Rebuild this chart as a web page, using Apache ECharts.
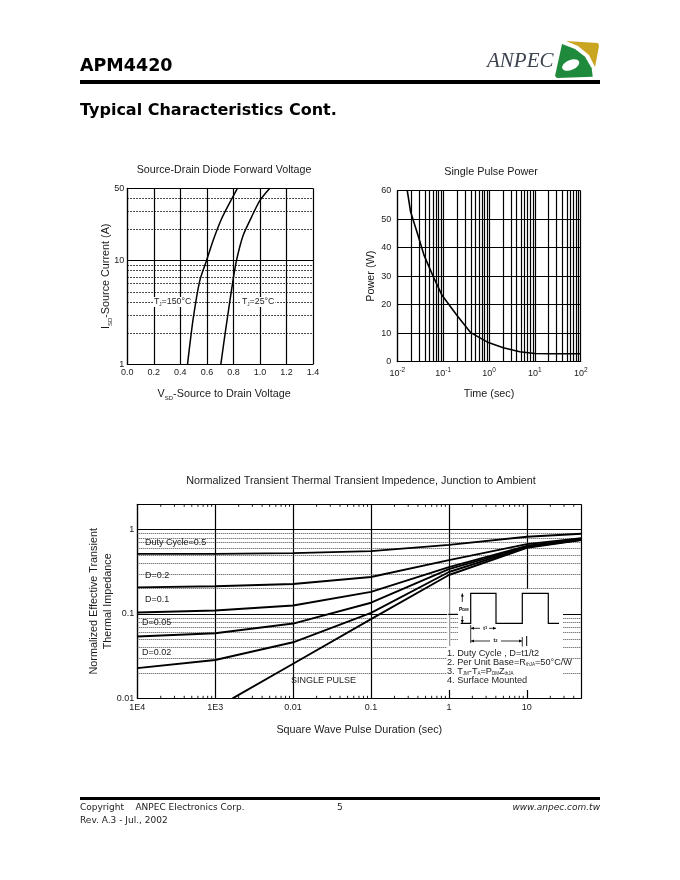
<!DOCTYPE html>
<html><head><meta charset="utf-8">
<style>html,body{margin:0;padding:0;background:#fff}#c{width:680px;height:880px}</style>
<script src="https://cdn.jsdelivr.net/npm/echarts@6/dist/echarts.min.js"></script>
</head><body><div id="c"></div>
<script>
// ---- data ----
const diode150 = [[0.454,1],[0.497,2.77],[0.547,6.47],[0.597,10],[0.647,15.7],[0.71,25.3],[0.798,41.9],[0.83,50]];
const diode25 = [[0.705,1],[0.743,2.22],[0.793,6],[0.823,10],[0.873,17.5],[0.936,26.3],[0.999,38],[1.074,50]];
const diodeMinorY = [2,3,4,5,6,7,8,9,20,30,40];
const diodeXLabels = ['0.0','0.2','0.4','0.6','0.8','1.0','1.2','1.4'];

const powerCurve = [[0.0165,60],[0.0195,52.6],[0.0288,43.9],[0.0382,37.4],[0.061,29.8],[0.0925,23.6],[0.1,22.8],[0.197,16.4],[0.4,10.2],[0.97,6.7],[2.05,4.9],[4.7,3.5],[10,2.9],[21,2.8],[100,2.8]];
const powerMinorX = [0.02,0.03,0.04,0.05,0.06,0.07,0.08,0.09,0.2,0.3,0.4,0.5,0.6,0.7,0.8,0.9,2,3,4,5,6,7,8,9,20,30,40,50,60,70,80,90];

const pulseTimes = [0.0001,0.001,0.01,0.1,1,10,50];
const dutyHalf = [0.517,0.517,0.527,0.557,0.66,0.825,0.896];
const duty02 = [0.207,0.213,0.227,0.275,0.435,0.675,0.795];
const duty01 = [0.104,0.11,0.126,0.183,0.36,0.644,0.77];
const duty005 = [0.054,0.059,0.077,0.136,0.34,0.63,0.765];
const duty002 = [0.0228,0.0285,0.0462,0.103,0.315,0.62,0.76];
const singlePulse = [[0.00167,0.01],[0.01,0.0257],[0.1,0.0868],[1,0.29],[10,0.61],[50,0.755]];
const thermalMinorY = [0.02,0.03,0.04,0.05,0.06,0.07,0.08,0.09,0.2,0.3,0.4,0.5,0.6,0.7,0.8,0.9];
const thermalMinorX = [0.0002,0.0003,0.0004,0.0005,0.0006,0.0007,0.0008,0.0009,0.002,0.003,0.004,0.005,0.006,0.007,0.008,0.009,0.02,0.03,0.04,0.05,0.06,0.07,0.08,0.09,0.2,0.3,0.4,0.5,0.6,0.7,0.8,0.9,2,3,4,5,6,7,8,9,20,30,40];
const thermalXLabels = {'-4':'1E4','-3':'1E3','-2':'0.01','-1':'0.1','0':'1','1':'10'};
const thermalYLabels = {'0':'1','-1':'0.1','-2':'0.01'};

const FF = '"Liberation Sans"';
const INK = '#1a1a1a';
const axisText = {color:INK,fontFamily:FF,fontSize:9,margin:4};
const nameText = {color:INK,fontFamily:FF,fontSize:10.8};
const subRich = {sub:{fontSize:6,fontFamily:FF,color:INK,verticalAlign:'bottom',lineHeight:14,padding:[5,0,0,0]},
                 sup:{fontSize:6.5,fontFamily:FF,color:INK,verticalAlign:'top',lineHeight:14}};
const solid = {show:true,lineStyle:{color:'#000',width:1.2,type:'solid'}};
const axisLine = {show:true,onZero:false,lineStyle:{color:'#000',width:1.2}};
const dotted = {color:'#333',width:0.9,type:[1,1]};
const dottedDark = {color:'#111',width:1.1,type:[1.5,1.5]};

function rules(x,y,list,dim,style){
  return {type:'line',xAxisIndex:x,yAxisIndex:y,data:[],silent:true,z:1,
    markLine:{silent:true,symbol:'none',animation:false,label:{show:false},lineStyle:style,
      emphasis:{disabled:true},data:list.map(v=>({[dim]:v}))}};
}
function curve(x,y,data,width,smooth){
  return {type:'line',xAxisIndex:x,yAxisIndex:y,data:data,symbol:'none',smooth:smooth||false,
    animation:false,silent:true,z:5,lineStyle:{color:'#000',width:width},clip:true};
}
const zip = (xs,ys)=>ys.map((v,i)=>[xs[i],v]);

// ---- page decoration and text ----
function T(x,y,text,font,o){
  o=o||{};
  return {type:'text',x:x,y:y,z:o.z||20,rotation:o.rot||0,style:Object.assign({text:text,font:font,fill:o.fill||'#000',
    textAlign:o.align||'left',textVerticalAlign:'middle'},o.style||{})};
}
function Rect(x,y,w,h,fill,z){return {type:'rect',z:z||10,shape:{x,y,width:w,height:h},style:{fill}};}
function Poly(points,width,z){return {type:'polyline',z:z||15,shape:{points},style:{stroke:'#000',fill:null,lineWidth:width}};}
function Arrow(x1,y1,x2,y2){
  const dx=Math.sign(x2-x1),dy=Math.sign(y2-y1);
  return [Poly([[x1,y1],[x2,y2]],0.8),
    {type:'polygon',z:15,shape:{points:[[x2,y2],[x2-dx*3-dy*1.5,y2-dy*3-dx*1.5],[x2-dx*3+dy*1.5,y2-dy*3+dx*1.5]]},style:{fill:'#000'}}];
}
const noteFont = '9.2px '+FF;
const subStyle = {rich:{s:{fontSize:4.5,fontFamily:FF,fill:'#222',verticalAlign:'bottom',padding:[5,0,0,0]}}};
const tinyRich = {rich:{s:{fontSize:4,fontFamily:FF,fontWeight:'bold'}}};
const graphics = [
  T(80,66,'APM4420','bold 17.5px "DejaVu Sans"'),
  Rect(80,80,520,4,'#000'),
  T(80,111,'Typical Characteristics Cont.','bold 16px "DejaVu Sans"'),
  {type:'polygon',z:3,shape:{points:[[566,41],[598,43],[599,46],[595,67],[589,55],[578,46]]},style:{fill:'#c9a521'}},
  {type:'polygon',z:4,shape:{points:[[562,44],[575,49],[585,56.7],[591.7,68.3],[592.7,76.7],[557,78],[555,76]]},style:{fill:'#1f8a3c'}},
  {type:'ellipse',z:5,rotation:0.4,originX:570.7,originY:65,shape:{cx:570.7,cy:65,rx:9,ry:5},style:{fill:'#fff'}},
  T(487,61,'ANPEC','italic 21px "Liberation Serif"',{fill:'#3d4450'}),
  Rect(80,797,520,3,'#000'),
  T(80,808,'Copyright    ANPEC Electronics Corp.','9px "DejaVu Sans"',{fill:'#222'}),
  T(337,808,'5','9px "DejaVu Sans"',{fill:'#222'}),
  T(600,808,'www.anpec.com.tw','italic 9px "DejaVu Sans"',{fill:'#222',align:'right'}),
  T(80,821,'Rev. A.3 - Jul., 2002','9px "DejaVu Sans"',{fill:'#222'}),
  T(224,170.5,'Source-Drain Diode Forward Voltage','10.7px '+FF,{fill:INK,align:'center'}),
  T(491,172,'Single Pulse Power','10.8px '+FF,{fill:INK,align:'center'}),
  T(361,481,'Normalized Transient Thermal Transient Impedence, Junction to Ambient','10.8px '+FF,{fill:INK,align:'center'}),
  T(153,302,'T{s|J}=150°C','8.8px '+FF,{fill:'#222',style:Object.assign({backgroundColor:'#fff',padding:[0,1]},subStyle)}),
  T(241,302,'T{s|J}=25°C','8.8px '+FF,{fill:'#222',style:Object.assign({backgroundColor:'#fff',padding:[0,1]},subStyle)}),
  T(145,543,'Duty Cycle=0.5','9px '+FF,{fill:'#222'}),
  T(145,576,'D=0.2','9px '+FF,{fill:'#222'}),
  T(145,600,'D=0.1','9px '+FF,{fill:'#222'}),
  T(142,623,'D=0.05','9px '+FF,{fill:'#222'}),
  T(142,653,'D=0.02','9px '+FF,{fill:'#222'}),
  T(291,681,'SINGLE PULSE','9px '+FF,{fill:'#222'}),
  // inset
  Rect(458,589,105,57,'#fff',10),
  Rect(447.2,589,2.4,57,'#fff',10),
  Rect(447,646,116,44,'#fff',10),
  Poly([[448,614.3],[458,614.3]],1,11),
  Poly([[460.7,623.3],[470.7,623.3],[470.7,593.3],[496,593.3],[496,623.3],[522.3,623.3],[522.3,593.3],[548.3,593.3],[548.3,623.3],[559,623.3]],1.2),
  ...Arrow(462.3,602,462.3,593.5),
  ...Arrow(462.3,616,462.3,623),
  T(459,609.5,'P{s|DM}','bold 5px '+FF,{style:tinyRich}),
  Poly([[470.7,625],[470.7,643]],0.8),
  Poly([[522.3,637],[522.3,646.5]],0.8),
  ...Arrow(480,628.3,471,628.3),
  ...Arrow(489,628.3,496,628.3),
  T(483.3,628.3,'t{s|1}','bold 5px '+FF,{style:tinyRich}),
  ...Arrow(490,641,471,641),
  ...Arrow(501,641,522,641),
  T(493.5,641,'t{s|2}','bold 5px '+FF,{style:tinyRich}),
  Poly([[526.7,636],[526.7,646]],1),
  T(447,653,'1. Duty Cycle , D=t1/t2',noteFont,{fill:'#222'}),
  T(447,662,'2. Per Unit Base=R{s|thJA}=50°C/W',noteFont,{fill:'#222',style:subStyle}),
  T(447,671,'3. T{s|JM}-T{s|A}=P{s|DM}Z{s|thJA}',noteFont,{fill:'#222',style:subStyle}),
  T(447,680,'4. Surface Mounted',noteFont,{fill:'#222'}),
];

// ---- chart ----
const chart = echarts.init(document.getElementById('c'),null,{renderer:'canvas',width:680,height:880});
chart.setOption({
  animation:false,
  backgroundColor:'#fff',
  graphic:{elements:graphics},
  grid:[
    {left:127.3,top:188.3,width:185.7,height:176},
    {left:397.3,top:190.7,width:183.4,height:171},
    {left:137.3,top:504.3,width:444,height:194}
  ],
  xAxis:[
    {gridIndex:0,type:'value',min:0,max:1.4,interval:0.2,position:'bottom',axisLine,axisTick:{show:false},splitLine:solid,
      axisLabel:Object.assign({},axisText,{formatter:(v)=>diodeXLabels[Math.round(v/0.2)]}),
      name:'V{sub|SD}-Source to Drain Voltage',nameLocation:'middle',nameGap:23,nameTextStyle:Object.assign({},nameText,{rich:subRich,padding:[0,0,0,8]})},
    {gridIndex:1,type:'log',min:0.01,max:100,logBase:10,axisLine,axisTick:{show:false},splitLine:solid,
      axisLabel:Object.assign({},axisText,{margin:5,rich:subRich,formatter:(v)=>'10{sup|'+Math.round(Math.log10(v))+'}'}),
      name:'Time (sec)',nameLocation:'middle',nameGap:27,nameTextStyle:nameText},
    {gridIndex:2,type:'log',min:0.0001,max:50,logBase:10,axisLine,axisTick:{show:false},splitLine:solid,
      axisLabel:Object.assign({},axisText,{margin:5,showMaxLabel:false,formatter:(v)=>{const k=Math.log10(v);return Math.abs(k-Math.round(k))<1e-6?(thermalXLabels[Math.round(k)]||''):'';}}),
      name:'Square Wave Pulse Duration (sec)',nameLocation:'middle',nameGap:26,nameTextStyle:nameText}
  ],
  yAxis:[
    {gridIndex:0,type:'log',min:1,max:50,logBase:10,axisLine,axisTick:{show:false},splitLine:solid,nameMoveOverlap:false,
      axisLabel:Object.assign({},axisText,{margin:3,showMinLabel:true,showMaxLabel:true,formatter:(v)=>String(Math.round(v))}),
      name:'I{sub|SD}-Source Current (A)',nameLocation:'middle',nameGap:14,nameTextStyle:Object.assign({},nameText,{rich:subRich})},
    {gridIndex:1,type:'value',min:0,max:60,interval:10,axisLine,axisTick:{show:false},splitLine:solid,nameMoveOverlap:false,
      axisLabel:Object.assign({},axisText,{margin:6}),
      name:'Power (W)',nameLocation:'middle',nameGap:21,nameTextStyle:nameText},
    {gridIndex:2,type:'log',min:0.01,max:2,logBase:10,axisLine,axisTick:{show:false},splitLine:solid,nameMoveOverlap:false,
      axisLabel:Object.assign({},axisText,{margin:3,formatter:(v)=>{const k=Math.log10(v);return Math.abs(k-Math.round(k))<1e-6?(thermalYLabels[Math.round(k)]||''):'';}}),
      name:'Normalized Effective Transient\nThermal Impedance',nameLocation:'middle',nameGap:22,nameTextStyle:Object.assign({},nameText,{lineHeight:14})}
  ],
  series:[
    rules(0,0,diodeMinorY,'yAxis',dottedDark),
    curve(0,0,diode150,1.5,0.25),
    curve(0,0,diode25,1.5,0.25),
    rules(1,1,powerMinorX,'xAxis',{color:'#000',width:1.2,type:'solid'}),
    curve(1,1,powerCurve,1.6),
    rules(2,2,thermalMinorY,'yAxis',dotted),
    {type:'custom',xAxisIndex:2,yAxisIndex:2,coordinateSystem:'cartesian2d',silent:true,z:2,animation:false,
      data:thermalMinorX.map(v=>[v,0.01]),encode:{x:0,y:1},clip:false,
      renderItem:(p,api)=>{
        const b=api.coord([api.value(0),0.01]),t=api.coord([api.value(0),2]);
        const st={stroke:'#000',lineWidth:0.9};
        return {type:'group',children:[
          {type:'line',shape:{x1:b[0],y1:b[1],x2:b[0],y2:b[1]-2.5},style:st},
          {type:'line',shape:{x1:t[0],y1:t[1],x2:t[0],y2:t[1]+2.5},style:st}]};
      }},
    curve(2,2,zip(pulseTimes,dutyHalf),1.9),
    curve(2,2,zip(pulseTimes,duty02),1.9),
    curve(2,2,zip(pulseTimes,duty01),1.9),
    curve(2,2,zip(pulseTimes,duty005),1.9),
    curve(2,2,zip(pulseTimes,duty002),1.9),
    curve(2,2,singlePulse,1.9)
  ]
});
</script></body></html>
